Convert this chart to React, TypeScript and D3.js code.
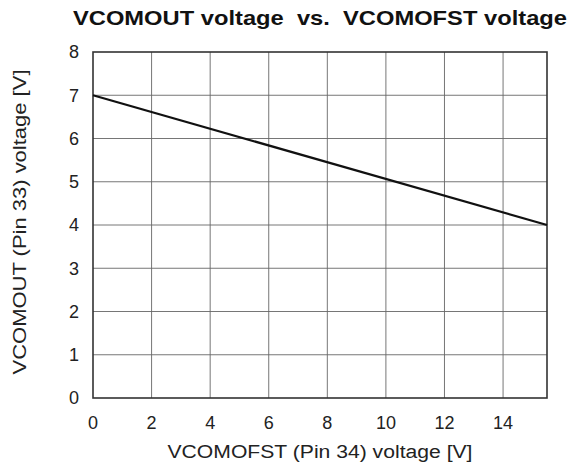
import React, { useEffect, useRef } from 'react'
import * as d3 from 'd3'

const xTicks = [0, 2, 4, 6, 8, 10, 12, 14]
const yTicks = [0, 1, 2, 3, 4, 5, 6, 7, 8]
const vcomofst = [0, 15.5]
const vcomout = [7, 4]

const W = 574
const H = 469
const margin = { top: 52, right: 27, bottom: 71, left: 93 }
const font = 'Liberation Sans, Arial, sans-serif'

export default function App() {
  const ref = useRef<SVGSVGElement>(null)

  useEffect(() => {
    const svg = d3.select(ref.current)
    svg.selectAll('*').remove()
    const iw = W - margin.left - margin.right
    const ih = H - margin.top - margin.bottom

    const x = d3.scaleLinear().domain([0, 15.5]).range([0, iw])
    const y = d3.scaleLinear().domain([0, 8]).range([ih, 0])

    const g = svg.append('g').attr('transform', `translate(${margin.left},${margin.top})`)

    // grid
    g.selectAll('.vgrid').data(xTicks.slice(1)).enter().append('line')
      .attr('x1', d => x(d)).attr('x2', d => x(d))
      .attr('y1', 0).attr('y2', ih)
      .attr('stroke', '#666').attr('stroke-width', 0.9)
    g.selectAll('.hgrid').data(yTicks.slice(1, -1)).enter().append('line')
      .attr('x1', 0).attr('x2', iw)
      .attr('y1', d => y(d)).attr('y2', d => y(d))
      .attr('stroke', '#666').attr('stroke-width', 0.9)

    g.append('rect').attr('width', iw).attr('height', ih)
      .attr('fill', 'none').attr('stroke', '#333').attr('stroke-width', 1.6)

    // tick labels
    g.selectAll('.xt').data(xTicks).enter().append('text')
      .attr('x', d => x(d)).attr('y', ih + 30.5)
      .attr('text-anchor', 'middle')
      .attr('font-family', font)
      .attr('font-size', 18).attr('fill', '#222')
      .text(d => d)
    g.selectAll('.yt').data(yTicks).enter().append('text')
      .attr('x', -14).attr('y', d => y(d)).attr('dy', '0.36em')
      .attr('text-anchor', 'end')
      .attr('font-family', font)
      .attr('font-size', 18).attr('fill', '#222')
      .text(d => d)

    // data line
    const pts = vcomofst.map((v, i) => [v, vcomout[i]] as [number, number])
    const line = d3.line<[number, number]>().x(d => x(d[0])).y(d => y(d[1]))
    g.append('path').datum(pts).attr('d', line)
      .attr('fill', 'none').attr('stroke', '#111').attr('stroke-width', 2.2)

    // titles
    svg.append('text')
      .attr('x', margin.left + iw / 2).attr('y', 25)
      .attr('text-anchor', 'middle')
      .attr('font-family', font)
      .attr('font-size', 21).attr('font-weight', 'bold').attr('fill', '#111')
      .attr('xml:space', 'preserve')
      .attr('textLength', 494).attr('lengthAdjust', 'spacingAndGlyphs')
      .text('VCOMOUT voltage  vs.  VCOMOFST voltage')
    svg.append('text')
      .attr('x', margin.left + iw / 2).attr('y', 458)
      .attr('text-anchor', 'middle')
      .attr('font-family', font)
      .attr('font-size', 18).attr('fill', '#222')
      .attr('textLength', 305).attr('lengthAdjust', 'spacingAndGlyphs')
      .text('VCOMOFST (Pin 34) voltage [V]')
    svg.append('text')
      .attr('transform', `translate(25.5,${margin.top + ih / 2 - 3}) rotate(-90)`)
      .attr('text-anchor', 'middle')
      .attr('font-family', font)
      .attr('font-size', 18).attr('fill', '#222')
      .attr('textLength', 305).attr('lengthAdjust', 'spacingAndGlyphs')
      .text('VCOMOUT (Pin 33) voltage [V]')
  }, [])

  return (
    <svg ref={ref} width={W} height={H}
      style={{ position: 'absolute', left: 0, top: 0, background: '#fff' }} />
  )
}
